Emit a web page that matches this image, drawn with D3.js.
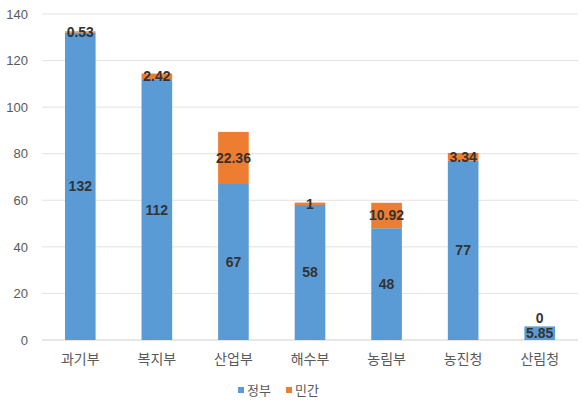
<!DOCTYPE html>
<html>
<head>
<meta charset="utf-8">
<script src="https://cdn.jsdelivr.net/npm/d3@7"></script>
<style>
  body { margin: 0; background: #fff; }
  svg { display: block; }
</style>
</head>
<body>
<div id="chart"></div>
<script>
const categories = ["과기부", "복지부", "산업부", "해수부", "농림부", "농진청", "산림청"];
const government = [132, 112, 67, 58, 48, 77, 5.85];
const privateSector = [0.53, 2.42, 22.36, 1, 10.92, 3.34, 0];
const seriesNames = ["정부", "민간"];
const yTicks = [0, 20, 40, 60, 80, 100, 120, 140];

const colors = ["#5B9BD5", "#ED7D31"];
const width = 582, height = 405;
const margin = { top: 14, right: 4, bottom: 65, left: 42 };

const svg = d3.select("#chart").append("svg")
  .attr("width", width)
  .attr("height", height);

const x = d3.scaleBand()
  .domain(categories)
  .range([margin.left, width - margin.right])
  .paddingInner(0.6)
  .paddingOuter(0.3);

const y = d3.scaleLinear()
  .domain([0, 140])
  .range([height - margin.bottom, margin.top]);

// gridlines
svg.append("g")
  .selectAll("line")
  .data(yTicks)
  .join("line")
  .attr("x1", margin.left)
  .attr("x2", width - margin.right)
  .attr("y1", d => y(d))
  .attr("y2", d => y(d))
  .attr("stroke", d => d === 0 ? "#d0d0d0" : "#e3e3e3")
  .attr("stroke-width", 1);

// y axis labels
const yAxis = svg.append("g")
  .attr("transform", `translate(${margin.left - 14},0)`)
  .call(d3.axisLeft(y).tickValues(yTicks).tickSize(0).tickPadding(0));
yAxis.select(".domain").remove();
yAxis.selectAll("text")
  .attr("fill", "#595959")
  .style("font-family", "Liberation Sans, Arial, sans-serif")
  .style("font-size", "13px");

// x axis labels
const xAxis = svg.append("g")
  .attr("transform", `translate(0,${y(0) + 14})`)
  .call(d3.axisBottom(x).tickSize(0).tickPadding(0));
xAxis.select(".domain").remove();
xAxis.selectAll("text")
  .attr("fill", "#595959")
  .style("font-family", "Noto Sans CJK KR, sans-serif")
  .style("font-size", "14px");

// stacked data
const rows = categories.map((c, i) => ({ cat: c, g: government[i], p: privateSector[i] }));
const stack = d3.stack().keys(["g", "p"])(rows);

const layers = svg.append("g")
  .selectAll("g")
  .data(stack)
  .join("g")
  .attr("fill", (d, i) => colors[i]);

layers.selectAll("rect")
  .data(d => d)
  .join("rect")
  .attr("x", d => x(d.data.cat))
  .attr("width", x.bandwidth())
  .attr("y", d => y(d[1]))
  .attr("height", d => y(d[0]) - y(d[1]));

// data labels
const labels = svg.append("g")
  .style("font-family", "Liberation Sans, Arial, sans-serif")
  .style("font-size", "14px")
  .style("font-weight", "bold")
  .attr("fill", "#333333")
  .attr("text-anchor", "middle");

stack.forEach((layer, li) => {
  labels.selectAll(null)
    .data(layer)
    .join("text")
    .attr("x", d => x(d.data.cat) + x.bandwidth() / 2)
    .attr("y", d => {
      const mid = y((d[0] + d[1]) / 2);
      // zero-height segment label sits just above the bar
      return (d[1] - d[0] === 0) ? y(d[1]) - 8 : mid;
    })
    .attr("dy", "0.35em")
    .text(d => li === 0 ? d.data.g : d.data.p);
});

// legend
const legend = svg.append("g")
  .attr("transform", `translate(238,390)`)
  .style("font-family", "Noto Sans CJK KR, sans-serif")
  .style("font-size", "13px");

const items = legend.selectAll("g")
  .data(seriesNames)
  .join("g")
  .attr("transform", (d, i) => `translate(${i * 48},0)`);

items.append("rect")
  .attr("x", 0).attr("y", -3)
  .attr("width", 6).attr("height", 6)
  .attr("fill", (d, i) => colors[i]);

items.append("text")
  .attr("x", 9)
  .attr("dy", "0.35em")
  .attr("fill", "#595959")
  .text(d => d);
</script>
</body>
</html>
